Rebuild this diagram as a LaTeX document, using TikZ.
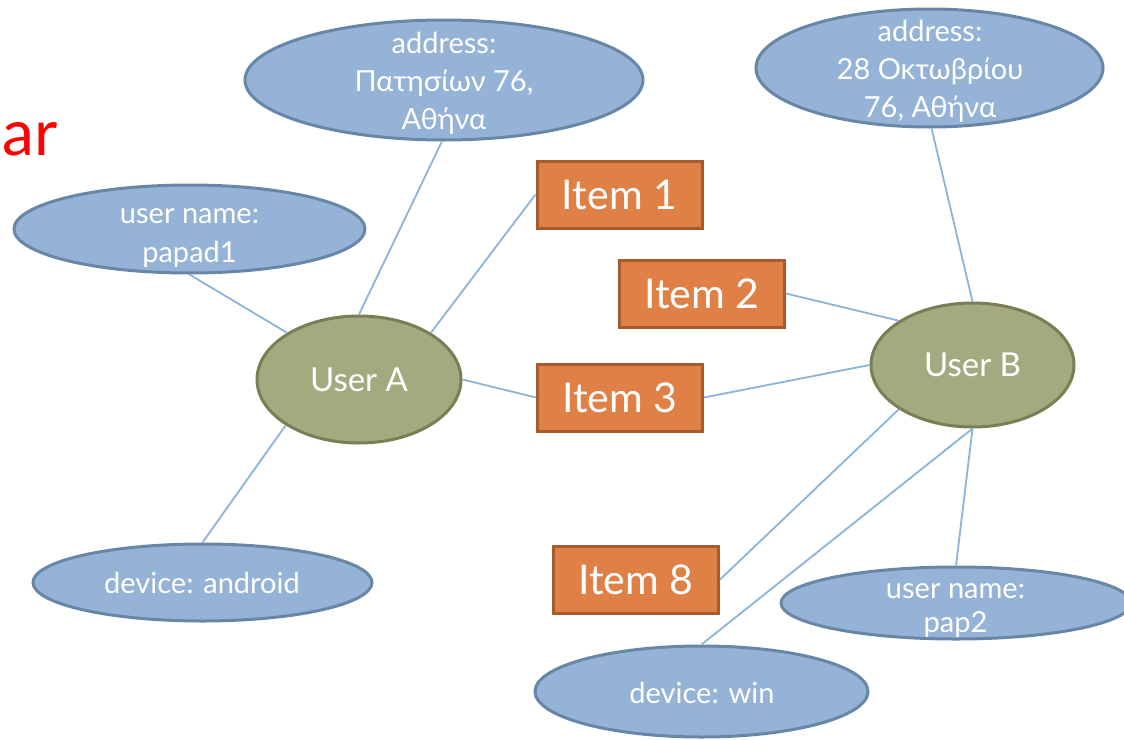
\documentclass[tikz,border=0pt]{standalone}
\usepackage{fontspec}
\setmainfont{Lato}
\usetikzlibrary{shapes.geometric}
\definecolor{bfill}{HTML}{94B3D6}
\definecolor{bline}{HTML}{6886A6}
\definecolor{ofill}{HTML}{A4A97F}
\definecolor{oline}{HTML}{7B7E55}
\definecolor{rfill}{HTML}{DF8047}
\definecolor{rline}{HTML}{A75B2D}
\definecolor{cline}{HTML}{8CB4DA}
\newcommand\lines[1]{\begin{tabular}[t]{@{}c@{}}#1\end{tabular}}
\begin{document}
\begin{tikzpicture}[x=1pt,y=-1pt,
  bell/.style={ellipse, draw=bline, fill=bfill, line width=3pt, inner sep=0pt},
  btext/.style={text=white, anchor=base, inner sep=0pt, font=\fontsize{29}{38}\selectfont},
  user/.style={ellipse, draw=oline, fill=ofill, line width=3pt, inner sep=0pt, text=white, font=\fontsize{33}{38}\selectfont},
  item/.style={rectangle, draw=rline, fill=rfill, line width=3pt, inner sep=0pt, text=white, font=\fontsize{41}{44}\selectfont, minimum width=165pt, minimum height=67pt},
  conn/.style={draw=cline, line width=1.8pt}]
\useasboundingbox (0,0) rectangle (1124,739);
\fill[white] (0,0) rectangle (1124,739);

\node[text=red, font=\fontsize{64}{70}\selectfont, anchor=base east, inner sep=0pt] (ar) at (58,155) {ar};

% blue ellipses
\node[bell, minimum width=398pt, minimum height=120pt] (addrA) at (444,80) {};
\node[btext] (addrAt) at (444,53) {\lines{address:\\Πατησίων 76,\\Αθήνα}};
\node[bell, minimum width=351pt, minimum height=88pt] (unA) at (189.5,229) {};
\node[btext, font=\fontsize{29}{39}\selectfont] (unAt) at (189.5,223) {\lines{user name:\\papad1}};
\node[bell, minimum width=339pt, minimum height=77pt] (devA) at (202.5,582.5) {};
\node[btext] (devAt) at (202,593) {device: android};
\node[bell, minimum width=347pt, minimum height=118pt] (addrB) at (929.5,68) {};
\node[btext] (addrBt) at (930,41) {\lines{address:\\28 Οκτωβρίου\\76, Αθήνα}};
\node[bell, minimum width=350pt, minimum height=72pt] (unB) at (956,603) {};
\node[btext, font=\fontsize{29}{34}\selectfont] (unBt) at (955.5,598) {\lines{user name:\\pap2}};
\node[bell, minimum width=333pt, minimum height=91pt] (devB) at (701.5,691.5) {};
\node[btext] (devBt) at (702,703) {device: win};

% users
\node[user, minimum width=204pt, minimum height=127pt] (uA) at (359,379.5) {User A};
\node[user, minimum width=203pt, minimum height=124pt] (uB) at (972.5,365) {User B};

% items
\node[item] (i1) at (619.5,194.5) {Item 1};
\node[item] (i2) at (702,293.5) {Item 2};
\node[item] (i3) at (620,397.5) {Item 3};
\node[item] (i8) at (636,579.5) {Item 8};

% connectors
\draw[conn] (unA.270) -- (uA.147);
\draw[conn] (addrA.268) -- (uA.90);
\draw[conn] (i1.west) -- (uA.33);
\draw[conn] (uA.0) -- (i3.west);
\draw[conn] (uA.212) -- (devA.90);
\draw[conn] (i2.east) -- (uB.149);
\draw[conn] (addrB.272) -- (uB.90);
\draw[conn] (i3.east) -- (uB.180);
\draw[conn] (i8.east) -- (uB.211);
\draw[conn] (uB.270) -- (devB.90);
\draw[conn] (uB.270) -- (unB.90);
\end{tikzpicture}
\end{document}
